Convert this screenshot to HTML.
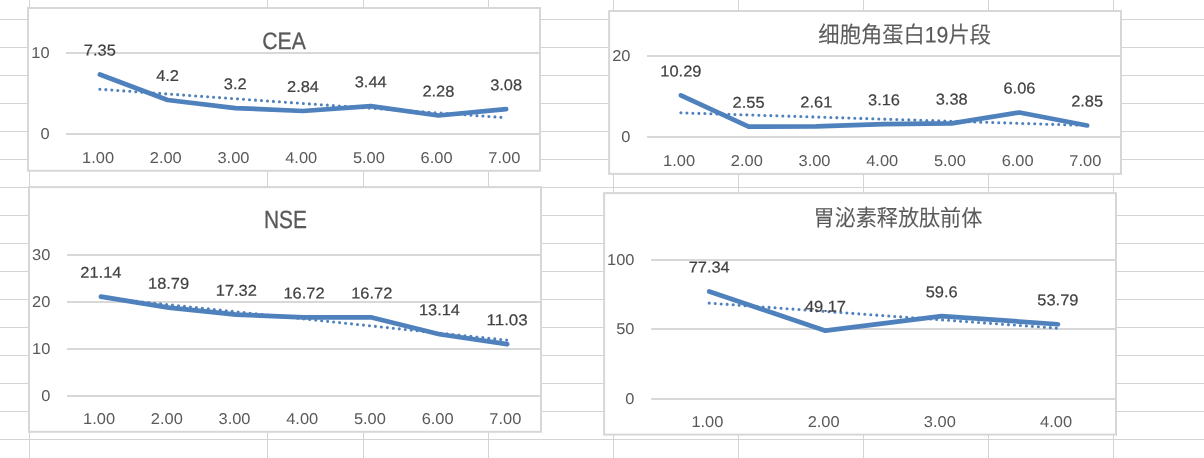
<!DOCTYPE html>
<html lang="zh-CN"><head><meta charset="utf-8"><title>Charts</title>
<style>
html,body{margin:0;padding:0;background:#fff;overflow:hidden}
svg{display:block}
text{font-family:"Liberation Sans","Noto Sans CJK SC",sans-serif;text-rendering:geometricPrecision}
.ax{fill:#595959;font-size:15.7px}
.dl{fill:#404040;font-size:15.7px;stroke:#404040;stroke-width:0.2px}
.tt{fill:#595959}
.cjk{font-weight:350;stroke:#595959;stroke-width:0.2px}
.lat{stroke:#595959;stroke-width:0.3px}
</style></head><body>
<svg width="1204" height="458" viewBox="0 0 1204 458">
<rect width="1204" height="458" fill="#fff"/>
<g fill="#d4d4d4" shape-rendering="crispEdges">
<rect x="0" y="19" width="1204" height="1"/>
<rect x="0" y="47" width="1204" height="1"/>
<rect x="0" y="75" width="1204" height="1"/>
<rect x="0" y="103" width="1204" height="1"/>
<rect x="0" y="131" width="1204" height="1"/>
<rect x="0" y="159" width="1204" height="1"/>
<rect x="0" y="187" width="1204" height="1"/>
<rect x="0" y="215" width="1204" height="1"/>
<rect x="0" y="243" width="1204" height="1"/>
<rect x="0" y="271" width="1204" height="1"/>
<rect x="0" y="299" width="1204" height="1"/>
<rect x="0" y="327" width="1204" height="1"/>
<rect x="0" y="355" width="1204" height="1"/>
<rect x="0" y="383" width="1204" height="1"/>
<rect x="0" y="411" width="1204" height="1"/>
<rect x="0" y="439" width="1204" height="1"/>
<rect x="29" y="0" width="1" height="458"/>
<rect x="267" y="0" width="1" height="458"/>
<rect x="363" y="0" width="1" height="458"/>
<rect x="488" y="0" width="1" height="458"/>
<rect x="613" y="0" width="1" height="458"/>
<rect x="738" y="0" width="1" height="458"/>
<rect x="863" y="0" width="1" height="458"/>
<rect x="988" y="0" width="1" height="458"/>
<rect x="1113" y="0" width="1" height="458"/>
</g>
<g id="c1">
<rect x="28.05" y="8.00" width="511.95" height="162.80" fill="#fff" stroke="#d7d7d7" stroke-width="2"/>
<line x1="66.00" y1="134.00" x2="540.00" y2="134.00" stroke="#d8d8d8" stroke-width="2"/>
<text class="ax" text-anchor="end" x="49.60" y="139.00" transform="rotate(0.03 49.60 139.00)" textLength="9.14" lengthAdjust="spacingAndGlyphs">0</text>
<line x1="66.00" y1="53.00" x2="540.00" y2="53.00" stroke="#d8d8d8" stroke-width="2"/>
<text class="ax" text-anchor="end" x="49.60" y="58.00" transform="rotate(0.03 49.60 58.00)" textLength="18.28" lengthAdjust="spacingAndGlyphs">10</text>
<text class="ax" text-anchor="middle" x="98.06" y="163.00" transform="rotate(0.03 98.06 163.00)" textLength="31.99" lengthAdjust="spacingAndGlyphs">1.00</text>
<text class="ax" text-anchor="middle" x="165.77" y="163.00" transform="rotate(0.03 165.77 163.00)" textLength="31.99" lengthAdjust="spacingAndGlyphs">2.00</text>
<text class="ax" text-anchor="middle" x="233.49" y="163.00" transform="rotate(0.03 233.49 163.00)" textLength="31.99" lengthAdjust="spacingAndGlyphs">3.00</text>
<text class="ax" text-anchor="middle" x="301.20" y="163.00" transform="rotate(0.03 301.20 163.00)" textLength="31.99" lengthAdjust="spacingAndGlyphs">4.00</text>
<text class="ax" text-anchor="middle" x="368.91" y="163.00" transform="rotate(0.03 368.91 163.00)" textLength="31.99" lengthAdjust="spacingAndGlyphs">5.00</text>
<text class="ax" text-anchor="middle" x="436.63" y="163.00" transform="rotate(0.03 436.63 163.00)" textLength="31.99" lengthAdjust="spacingAndGlyphs">6.00</text>
<text class="ax" text-anchor="middle" x="504.34" y="163.00" transform="rotate(0.03 504.34 163.00)" textLength="31.99" lengthAdjust="spacingAndGlyphs">7.00</text>
<text class="tt lat" text-anchor="middle" x="284.00" y="49.25" transform="rotate(0.03 284.00 49.25)" font-size="23.6px" textLength="43.5" lengthAdjust="spacingAndGlyphs">CEA</text>
<line x1="99.86" y1="89.22" x2="506.14" y2="117.70" stroke="#4f81bd" stroke-width="3.1" stroke-linecap="round" stroke-dasharray="0 6"/>
<polyline points="99.86,74.47 167.57,99.98 235.29,108.08 303.00,111.00 370.71,106.14 438.43,115.53 506.14,109.05" fill="none" stroke="#4f81bd" stroke-width="4.7" stroke-linecap="round" stroke-linejoin="round"/>
<text class="dl" text-anchor="middle" x="99.86" y="55.57" transform="rotate(0.03 99.86 55.57)" textLength="31.99" lengthAdjust="spacingAndGlyphs">7.35</text>
<text class="dl" text-anchor="middle" x="167.57" y="81.08" transform="rotate(0.03 167.57 81.08)" textLength="22.85" lengthAdjust="spacingAndGlyphs">4.2</text>
<text class="dl" text-anchor="middle" x="235.29" y="89.18" transform="rotate(0.03 235.29 89.18)" textLength="22.85" lengthAdjust="spacingAndGlyphs">3.2</text>
<text class="dl" text-anchor="middle" x="303.00" y="92.10" transform="rotate(0.03 303.00 92.10)" textLength="31.99" lengthAdjust="spacingAndGlyphs">2.84</text>
<text class="dl" text-anchor="middle" x="370.71" y="87.24" transform="rotate(0.03 370.71 87.24)" textLength="31.99" lengthAdjust="spacingAndGlyphs">3.44</text>
<text class="dl" text-anchor="middle" x="438.43" y="96.63" transform="rotate(0.03 438.43 96.63)" textLength="31.99" lengthAdjust="spacingAndGlyphs">2.28</text>
<text class="dl" text-anchor="middle" x="506.14" y="90.15" transform="rotate(0.03 506.14 90.15)" textLength="31.99" lengthAdjust="spacingAndGlyphs">3.08</text>
</g>
<g id="c2">
<rect x="609.10" y="11.00" width="511.90" height="162.90" fill="#fff" stroke="#d7d7d7" stroke-width="2"/>
<line x1="647.05" y1="137.00" x2="1121.00" y2="137.00" stroke="#d8d8d8" stroke-width="2"/>
<text class="ax" text-anchor="end" x="630.50" y="142.00" transform="rotate(0.03 630.50 142.00)" textLength="9.14" lengthAdjust="spacingAndGlyphs">0</text>
<line x1="647.05" y1="56.00" x2="1121.00" y2="56.00" stroke="#d8d8d8" stroke-width="2"/>
<text class="ax" text-anchor="end" x="630.50" y="61.00" transform="rotate(0.03 630.50 61.00)" textLength="18.28" lengthAdjust="spacingAndGlyphs">20</text>
<text class="ax" text-anchor="middle" x="679.10" y="166.00" transform="rotate(0.03 679.10 166.00)" textLength="31.99" lengthAdjust="spacingAndGlyphs">1.00</text>
<text class="ax" text-anchor="middle" x="746.81" y="166.00" transform="rotate(0.03 746.81 166.00)" textLength="31.99" lengthAdjust="spacingAndGlyphs">2.00</text>
<text class="ax" text-anchor="middle" x="814.52" y="166.00" transform="rotate(0.03 814.52 166.00)" textLength="31.99" lengthAdjust="spacingAndGlyphs">3.00</text>
<text class="ax" text-anchor="middle" x="882.23" y="166.00" transform="rotate(0.03 882.23 166.00)" textLength="31.99" lengthAdjust="spacingAndGlyphs">4.00</text>
<text class="ax" text-anchor="middle" x="949.93" y="166.00" transform="rotate(0.03 949.93 166.00)" textLength="31.99" lengthAdjust="spacingAndGlyphs">5.00</text>
<text class="ax" text-anchor="middle" x="1017.64" y="166.00" transform="rotate(0.03 1017.64 166.00)" textLength="31.99" lengthAdjust="spacingAndGlyphs">6.00</text>
<text class="ax" text-anchor="middle" x="1085.35" y="166.00" transform="rotate(0.03 1085.35 166.00)" textLength="31.99" lengthAdjust="spacingAndGlyphs">7.00</text>
<text class="tt cjk" text-anchor="middle" x="904.70" y="42.60" transform="rotate(0.03 904.70 42.60)" font-size="22.5px" textLength="172.7" lengthAdjust="spacingAndGlyphs">细胞角蛋白19片段</text>
<line x1="680.90" y1="112.82" x2="1087.15" y2="125.43" stroke="#4f81bd" stroke-width="3.1" stroke-linecap="round" stroke-dasharray="0 6"/>
<polyline points="680.90,95.33 748.61,126.67 816.32,126.43 884.02,124.20 951.73,123.31 1019.44,112.46 1087.15,125.46" fill="none" stroke="#4f81bd" stroke-width="4.7" stroke-linecap="round" stroke-linejoin="round"/>
<text class="dl" text-anchor="middle" x="680.90" y="76.43" transform="rotate(0.03 680.90 76.43)" textLength="41.13" lengthAdjust="spacingAndGlyphs">10.29</text>
<text class="dl" text-anchor="middle" x="748.61" y="107.77" transform="rotate(0.03 748.61 107.77)" textLength="31.99" lengthAdjust="spacingAndGlyphs">2.55</text>
<text class="dl" text-anchor="middle" x="816.32" y="107.53" transform="rotate(0.03 816.32 107.53)" textLength="31.99" lengthAdjust="spacingAndGlyphs">2.61</text>
<text class="dl" text-anchor="middle" x="884.02" y="105.30" transform="rotate(0.03 884.02 105.30)" textLength="31.99" lengthAdjust="spacingAndGlyphs">3.16</text>
<text class="dl" text-anchor="middle" x="951.73" y="104.41" transform="rotate(0.03 951.73 104.41)" textLength="31.99" lengthAdjust="spacingAndGlyphs">3.38</text>
<text class="dl" text-anchor="middle" x="1019.44" y="93.56" transform="rotate(0.03 1019.44 93.56)" textLength="31.99" lengthAdjust="spacingAndGlyphs">6.06</text>
<text class="dl" text-anchor="middle" x="1087.15" y="106.56" transform="rotate(0.03 1087.15 106.56)" textLength="31.99" lengthAdjust="spacingAndGlyphs">2.85</text>
</g>
<g id="c3">
<rect x="29.00" y="187.10" width="512.00" height="244.70" fill="#fff" stroke="#d7d7d7" stroke-width="2"/>
<line x1="67.05" y1="396.00" x2="541.00" y2="396.00" stroke="#d8d8d8" stroke-width="2"/>
<text class="ax" text-anchor="end" x="50.40" y="401.00" transform="rotate(0.03 50.40 401.00)" textLength="9.14" lengthAdjust="spacingAndGlyphs">0</text>
<line x1="67.05" y1="349.00" x2="541.00" y2="349.00" stroke="#d8d8d8" stroke-width="2"/>
<text class="ax" text-anchor="end" x="50.40" y="354.00" transform="rotate(0.03 50.40 354.00)" textLength="18.28" lengthAdjust="spacingAndGlyphs">10</text>
<line x1="67.05" y1="302.00" x2="541.00" y2="302.00" stroke="#d8d8d8" stroke-width="2"/>
<text class="ax" text-anchor="end" x="50.40" y="307.00" transform="rotate(0.03 50.40 307.00)" textLength="18.28" lengthAdjust="spacingAndGlyphs">20</text>
<line x1="67.05" y1="255.00" x2="541.00" y2="255.00" stroke="#d8d8d8" stroke-width="2"/>
<text class="ax" text-anchor="end" x="50.40" y="260.00" transform="rotate(0.03 50.40 260.00)" textLength="18.28" lengthAdjust="spacingAndGlyphs">30</text>
<text class="ax" text-anchor="middle" x="99.10" y="424.00" transform="rotate(0.03 99.10 424.00)" textLength="31.99" lengthAdjust="spacingAndGlyphs">1.00</text>
<text class="ax" text-anchor="middle" x="166.81" y="424.00" transform="rotate(0.03 166.81 424.00)" textLength="31.99" lengthAdjust="spacingAndGlyphs">2.00</text>
<text class="ax" text-anchor="middle" x="234.52" y="424.00" transform="rotate(0.03 234.52 424.00)" textLength="31.99" lengthAdjust="spacingAndGlyphs">3.00</text>
<text class="ax" text-anchor="middle" x="302.22" y="424.00" transform="rotate(0.03 302.22 424.00)" textLength="31.99" lengthAdjust="spacingAndGlyphs">4.00</text>
<text class="ax" text-anchor="middle" x="369.93" y="424.00" transform="rotate(0.03 369.93 424.00)" textLength="31.99" lengthAdjust="spacingAndGlyphs">5.00</text>
<text class="ax" text-anchor="middle" x="437.64" y="424.00" transform="rotate(0.03 437.64 424.00)" textLength="31.99" lengthAdjust="spacingAndGlyphs">6.00</text>
<text class="ax" text-anchor="middle" x="505.35" y="424.00" transform="rotate(0.03 505.35 424.00)" textLength="31.99" lengthAdjust="spacingAndGlyphs">7.00</text>
<text class="tt lat" text-anchor="middle" x="285.40" y="227.70" transform="rotate(0.03 285.40 227.70)" font-size="24.9px" textLength="43.0" lengthAdjust="spacingAndGlyphs">NSE</text>
<line x1="100.90" y1="297.61" x2="507.15" y2="340.15" stroke="#4f81bd" stroke-width="3.1" stroke-linecap="round" stroke-dasharray="0 6"/>
<polyline points="100.90,296.64 168.61,307.69 236.32,314.60 304.02,317.42 371.73,317.42 439.44,334.24 507.15,344.16" fill="none" stroke="#4f81bd" stroke-width="4.7" stroke-linecap="round" stroke-linejoin="round"/>
<text class="dl" text-anchor="middle" x="100.90" y="277.74" transform="rotate(0.03 100.90 277.74)" textLength="41.13" lengthAdjust="spacingAndGlyphs">21.14</text>
<text class="dl" text-anchor="middle" x="168.61" y="288.79" transform="rotate(0.03 168.61 288.79)" textLength="41.13" lengthAdjust="spacingAndGlyphs">18.79</text>
<text class="dl" text-anchor="middle" x="236.32" y="295.70" transform="rotate(0.03 236.32 295.70)" textLength="41.13" lengthAdjust="spacingAndGlyphs">17.32</text>
<text class="dl" text-anchor="middle" x="304.02" y="298.52" transform="rotate(0.03 304.02 298.52)" textLength="41.13" lengthAdjust="spacingAndGlyphs">16.72</text>
<text class="dl" text-anchor="middle" x="371.73" y="298.52" transform="rotate(0.03 371.73 298.52)" textLength="41.13" lengthAdjust="spacingAndGlyphs">16.72</text>
<text class="dl" text-anchor="middle" x="439.44" y="315.34" transform="rotate(0.03 439.44 315.34)" textLength="41.13" lengthAdjust="spacingAndGlyphs">13.14</text>
<text class="dl" text-anchor="middle" x="507.15" y="325.26" transform="rotate(0.03 507.15 325.26)" textLength="41.13" lengthAdjust="spacingAndGlyphs">11.03</text>
</g>
<g id="c4">
<rect x="604.10" y="193.10" width="511.90" height="241.50" fill="#fff" stroke="#d7d7d7" stroke-width="2"/>
<line x1="651.10" y1="399.00" x2="1116.00" y2="399.00" stroke="#d8d8d8" stroke-width="2"/>
<text class="ax" text-anchor="end" x="634.50" y="404.00" transform="rotate(0.03 634.50 404.00)" textLength="9.14" lengthAdjust="spacingAndGlyphs">0</text>
<line x1="651.10" y1="329.00" x2="1116.00" y2="329.00" stroke="#d8d8d8" stroke-width="2"/>
<text class="ax" text-anchor="end" x="634.50" y="334.00" transform="rotate(0.03 634.50 334.00)" textLength="18.28" lengthAdjust="spacingAndGlyphs">50</text>
<line x1="651.10" y1="260.00" x2="1116.00" y2="260.00" stroke="#d8d8d8" stroke-width="2"/>
<text class="ax" text-anchor="end" x="634.50" y="265.00" transform="rotate(0.03 634.50 265.00)" textLength="27.42" lengthAdjust="spacingAndGlyphs">100</text>
<text class="ax" text-anchor="middle" x="707.41" y="427.00" transform="rotate(0.03 707.41 427.00)" textLength="31.99" lengthAdjust="spacingAndGlyphs">1.00</text>
<text class="ax" text-anchor="middle" x="823.64" y="427.00" transform="rotate(0.03 823.64 427.00)" textLength="31.99" lengthAdjust="spacingAndGlyphs">2.00</text>
<text class="ax" text-anchor="middle" x="939.86" y="427.00" transform="rotate(0.03 939.86 427.00)" textLength="31.99" lengthAdjust="spacingAndGlyphs">3.00</text>
<text class="ax" text-anchor="middle" x="1056.09" y="427.00" transform="rotate(0.03 1056.09 427.00)" textLength="31.99" lengthAdjust="spacingAndGlyphs">4.00</text>
<text class="tt cjk" text-anchor="middle" x="897.90" y="225.85" transform="rotate(0.03 897.90 225.85)" font-size="22.5px" textLength="168.7" lengthAdjust="spacingAndGlyphs">胃泌素释放肽前体</text>
<line x1="709.21" y1="303.08" x2="1057.89" y2="328.19" stroke="#4f81bd" stroke-width="3.1" stroke-linecap="round" stroke-dasharray="0 6"/>
<polyline points="709.21,291.50 825.44,330.65 941.66,316.16 1057.89,324.23" fill="none" stroke="#4f81bd" stroke-width="4.7" stroke-linecap="round" stroke-linejoin="round"/>
<text class="dl" text-anchor="middle" x="709.21" y="272.60" transform="rotate(0.03 709.21 272.60)" textLength="41.13" lengthAdjust="spacingAndGlyphs">77.34</text>
<text class="dl" text-anchor="middle" x="825.44" y="311.75" transform="rotate(0.03 825.44 311.75)" textLength="41.13" lengthAdjust="spacingAndGlyphs">49.17</text>
<text class="dl" text-anchor="middle" x="941.66" y="297.26" transform="rotate(0.03 941.66 297.26)" textLength="31.99" lengthAdjust="spacingAndGlyphs">59.6</text>
<text class="dl" text-anchor="middle" x="1057.89" y="305.33" transform="rotate(0.03 1057.89 305.33)" textLength="41.13" lengthAdjust="spacingAndGlyphs">53.79</text>
</g>
</svg>
</body></html>
